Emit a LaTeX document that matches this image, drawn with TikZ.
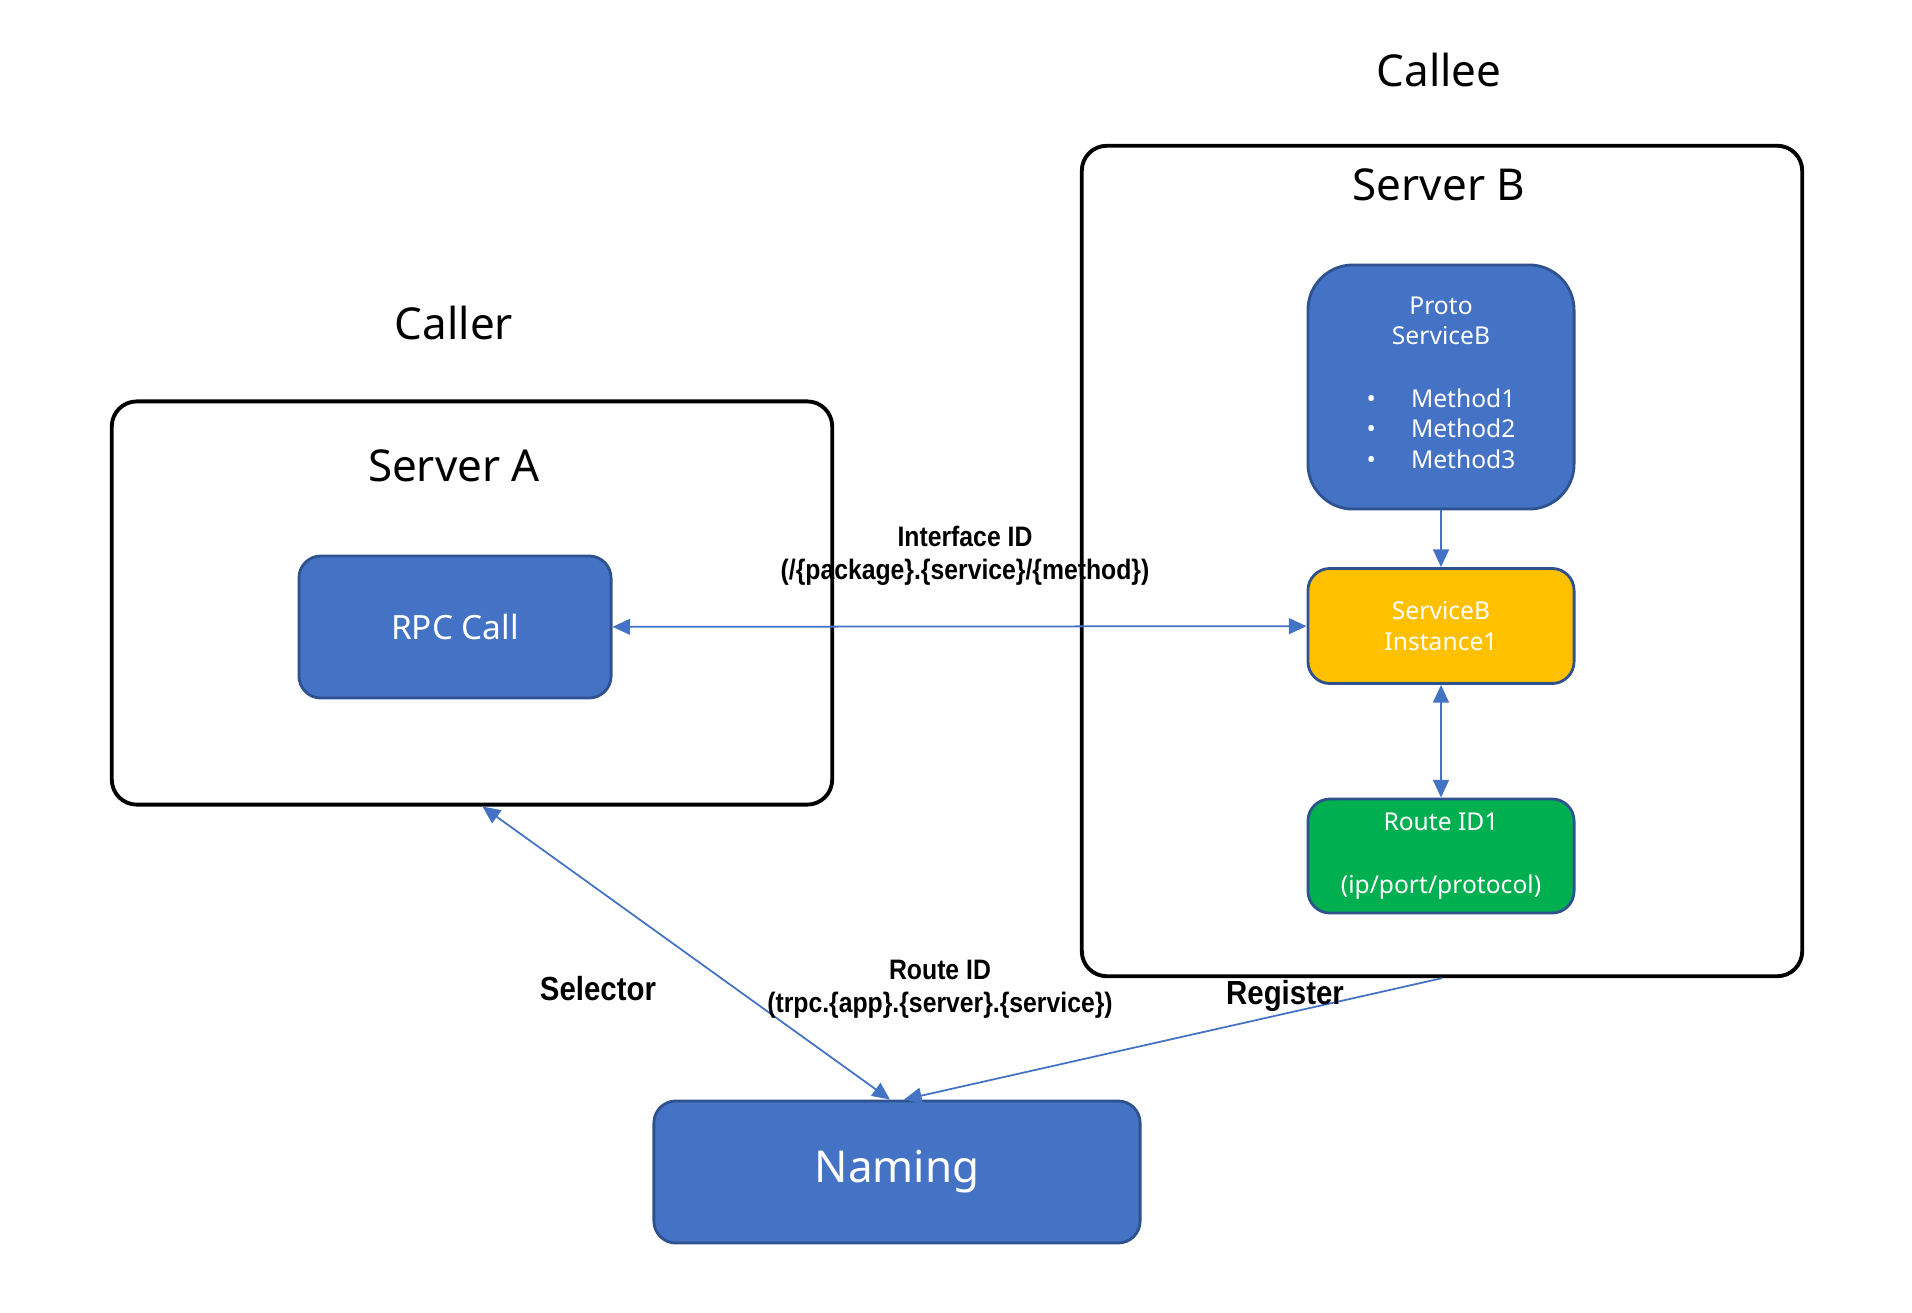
\documentclass[tikz,border=0pt]{standalone}
\usepackage{fontspec}
\setmainfont{Noto Sans}
\newfontfamily\tagfont[FakeStretch=0.88]{Liberation Sans}
\usetikzlibrary{arrows.meta}
\definecolor{boxblue}{HTML}{4472C4}
\definecolor{boxedge}{HTML}{2F528F}
\definecolor{boxgold}{HTML}{FFC000}
\definecolor{boxgreen}{HTML}{00B050}

\begin{document}
\begin{tikzpicture}
  [x=0.01cm,y=-0.01cm,
   server/.style={draw=black,line width=1.1pt,rounded corners=0.25cm,minimum width=7.2cm},
   svc/.style={draw=boxedge,line width=0.8pt,fill=boxblue,text=white,rounded corners=0.22cm,
     align=center,minimum width=2.66cm,font=\fontsize{7}{8.6}\selectfont},
   title/.style={font=\fontsize{12.5}{15}\selectfont},
   tag/.style={font=\tagfont\bfseries\fontsize{8}{9.4}\selectfont,align=center},
   link/.style={draw=boxblue,line width=0.5pt,-{Triangle[width=4.5pt,length=5pt]}},
   twolink/.style={link,{Triangle[width=4.5pt,length=5pt]}-{Triangle[width=4.5pt,length=5pt]}}]
  \useasboundingbox (0,0) rectangle (1912,1312);

  \node[title] (caller) at (454,323) {Caller};
  \node[title] (callee) at (1439,70) {Callee};

  \node[server,minimum height=4.03cm] (srvA) at (472,603) {};
  \node[title] (srvAt) at (454,466) {Server A};
  \node[server,minimum height=8.3cm] (srvB) at (1442,561) {};
  \node[title] (srvBt) at (1439,185) {Server B};

  \node[svc,minimum width=3.12cm,minimum height=1.42cm,font=\fontsize{9.5}{11}\selectfont]
    (rpc) at (455,627) {RPC Call};
  \node[svc,minimum height=2.44cm,rounded corners=0.45cm] (proto) at (1441,387)
    {Proto\\ServiceB\\[9.3pt]\begin{tabular}[t]{@{}l@{\hspace{10pt}}l@{}}
      \textbullet & Method1\\ \textbullet & Method2\\ \textbullet & Method3\end{tabular}};
  \node[svc,fill=boxgold,minimum height=1.15cm] (inst) at (1441,626) {ServiceB\\Instance1};
  \node[svc,fill=boxgreen,minimum height=1.14cm] (route) at (1441,856)
    {Route ID1\\[9.3pt](ip/port/protocol)};
  \node[svc,minimum width=4.86cm,minimum height=1.42cm,font=\fontsize{12.5}{15}\selectfont]
    (naming) at (897,1172) {Naming};

  \draw[twolink] (rpc) -- (inst);
  \draw[link] (proto) -- (inst);
  \draw[twolink] (inst) -- (route);
  \draw[twolink] ([xshift=3pt]srvA.south) -- ([xshift=-2pt]naming.north);
  \draw[link] (srvB.south) -- ([xshift=2pt]naming.north);

  % labels on the links
  \node[tag] (ifid) at (965,556) {Interface ID\\(/\{package\}.\{service\}/\{method\})};
  \node[tag] (rtid) at (940,989) {Route ID\\(trpc.\{app\}.\{server\}.\{service\})};
  \node[tag,font=\tagfont\bfseries\fontsize{9.5}{11}\selectfont] (sel) at (598,989) {Selector};
  \node[tag,font=\tagfont\bfseries\fontsize{9.5}{11}\selectfont] (reg) at (1285,996) {Register};
\end{tikzpicture}
\end{document}
